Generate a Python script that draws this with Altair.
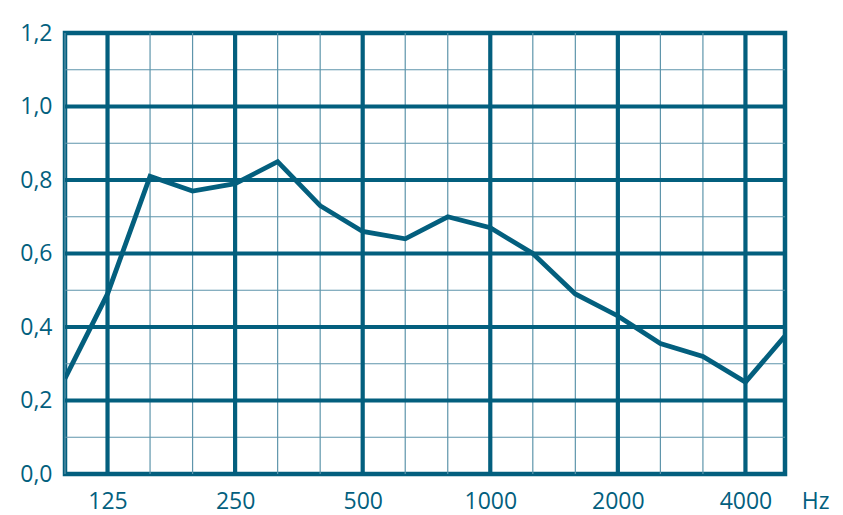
import altair as alt
import pandas as pd

# Third-octave bands (Hz) and sound absorption coefficient
bands = ["100", "125", "160", "200", "250", "315", "400", "500", "630", "800",
         "1000", "1250", "1600", "2000", "2500", "3150", "4000", "5000"]
alpha = [0.26, 0.49, 0.81, 0.77, 0.79, 0.85, 0.73, 0.66, 0.64, 0.70,
         0.67, 0.60, 0.49, 0.43, 0.355, 0.32, 0.25, 0.385]
label_bands = ["125", "250", "500", "1000", "2000", "4000"]
major_y = [0.2, 0.4, 0.6, 0.8, 1.0]
minor_y = [0.1, 0.3, 0.5, 0.7, 0.9, 1.1]
y_ticks = [0.0, 0.2, 0.4, 0.6, 0.8, 1.0, 1.2]

DARK = "#035f7e"
LIGHT = "#5e95ab"
FONT = "Open Sans"

df = pd.DataFrame({"i": list(range(len(bands))), "band": bands, "alpha": alpha})
minor_x = pd.DataFrame({"i": list(range(len(bands) - 1))})
major_x = pd.DataFrame({"i": [bands.index(b) for b in label_bands]})
minor_y_df = pd.DataFrame({"v": minor_y})
major_y_df = pd.DataFrame({"v": major_y})

label_map = "{" + ",".join(f"'{bands.index(b)}':'{b}'" for b in label_bands) + "}"

xscale = alt.Scale(domain=[0, 16.93], nice=False, zero=False)
yscale = alt.Scale(domain=[0, 1.2], nice=False)

xaxis = alt.Axis(values=[bands.index(b) for b in label_bands],
                 labelExpr=f"{label_map}[toString(datum.value)]",
                 grid=False, ticks=False, domain=False,
                 labelFont=FONT, labelFontSize=23, labelColor=DARK,
                 labelPadding=16, title="Hz", titleFont=FONT, titleFontSize=23,
                 titleFontWeight="normal", titleColor=DARK,
                 titleX=764, titleY=16, titleAngle=0, titleAlign="right",
                 titleBaseline="top")
yaxis = alt.Axis(values=y_ticks,
                 labelExpr="replace(format(datum.value, '.1f'), '.', ',')",
                 grid=False, ticks=False, domain=False,
                 labelFont=FONT, labelFontSize=23, labelColor=DARK,
                 labelPadding=13, title=None)

X = lambda f: alt.X(f, scale=xscale, axis=xaxis)
Y = lambda f: alt.Y(f, scale=yscale, axis=yaxis)

thin_v = alt.Chart(minor_x).mark_rule(color=LIGHT, strokeWidth=1.2).encode(x=X("i:Q"))
thin_h = alt.Chart(minor_y_df).mark_rule(color=LIGHT, strokeWidth=1.2).encode(y=Y("v:Q"))
thick_v = alt.Chart(major_x).mark_rule(color=DARK, strokeWidth=4.2).encode(x=X("i:Q"))
thick_h = alt.Chart(major_y_df).mark_rule(color=DARK, strokeWidth=4.2).encode(y=Y("v:Q"))
line = alt.Chart(df).mark_line(color=DARK, strokeWidth=4.8, clip=True,
                               strokeJoin="miter").encode(x=X("i:Q"), y=Y("alpha:Q"))

chart = alt.layer(thin_v, thin_h, thick_v, thick_h, line).properties(
    width=720, height=441,
    autosize=alt.AutoSizeParams(type="none"),
    padding={"left": 57, "top": 25, "right": 50, "bottom": 40},
).configure(background="white").configure_view(stroke=DARK, strokeWidth=4.5, fill="white")

chart.save("out.html", embed_options={"renderer": "svg", "actions": False})
